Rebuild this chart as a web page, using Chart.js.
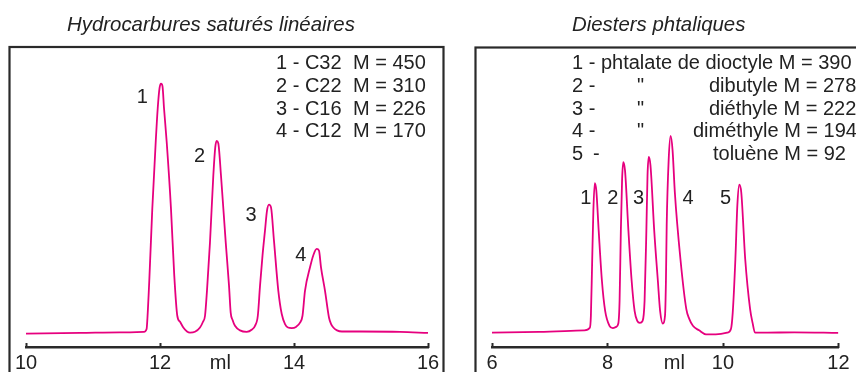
<!DOCTYPE html>
<html>
<head>
<meta charset="utf-8">
<script src="https://cdn.jsdelivr.net/npm/chart.js@4.4.1/dist/chart.umd.min.js"></script>
<style>
  body { margin: 0; background: #fff; overflow: hidden; }
  #wrap { position: relative; width: 856px; height: 372px; }
  canvas { position: absolute; top: 0; }
</style>
</head>
<body>
<div id="wrap">
  <canvas id="hc" width="460" height="372" style="left:0"></canvas>
  <canvas id="dp" width="396" height="372" style="left:460px"></canvas>
</div>
<script>
// --- Hydrocarbures saturés linéaires (volume in ml, detector response) ---
var hcX = [10.00, 10.81, 11.40, 11.76, 11.80, 11.81, 11.84, 11.885, 11.936, 11.966, 11.993, 12.015, 12.037, 12.060,
  12.100, 12.164, 12.213, 12.258, 12.299, 12.348, 12.403, 12.448, 12.522, 12.597, 12.642, 12.672, 12.701, 12.746,
  12.796, 12.825, 12.846, 12.870, 12.910, 12.981, 13.030, 13.055, 13.082, 13.119, 13.194, 13.294, 13.373, 13.418,
  13.460, 13.493, 13.530, 13.567, 13.597, 13.627, 13.657, 13.701, 13.766, 13.817, 13.866, 13.910, 13.966, 14.030,
  14.090, 14.127, 14.164, 14.239, 14.291, 14.339, 14.373, 14.403, 14.463, 14.522, 14.552, 14.587, 14.642, 14.716,
  14.985, 15.582, 16.00];
var hcY = [-0.3, -0.1, 0.1, 0.3, 1.3, 4.1, 18.1, 43.2, 66.5, 78.3, 85.3, 86.9, 86.0, 78.3,
  66.5, 43.2, 19.9, 5.9, 3.8, 1.8, 0.4, 0.0, 0.3, 1.8, 3.8, 5.9, 14.6, 31.5,
  54.9, 64.7, 66.9, 66.1, 54.9, 31.5, 16.4, 7.0, 4.5, 2.4, 0.8, 0.3, 1.1, 2.4,
  5.9, 16.4, 26.9, 35.6, 42.6, 44.7, 43.7, 32.1, 14.6, 6.5, 3.0, 1.8, 1.6, 2.0,
  3.5, 5.9, 14.6, 22.8, 27.2, 29.2, 28.6, 22.8, 14.6, 5.3, 3.1, 1.8, 0.8, 0.4,
  0.4, 0.3, -0.1];
var hcTicks = [10, 12, 14, 16];
var hcUnitAt = 12.9;
var hcPeakNames = ['1', '2', '3', '4'];
var hcPeakX = [11.736, 12.590, 13.358, 14.100];
var hcPeakY = [82.0, 61.4, 40.9, 27.0];
var hcLegendA = ['1 - C32', '2 - C22', '3 - C16', '4 - C12'];
var hcLegendB = ['M = 450', 'M = 310', 'M = 226', 'M = 170'];

// --- Diesters phtaliques ---
var dpX = [6.000, 6.816, 7.598, 7.695, 7.713, 7.734, 7.756, 7.780, 7.807, 7.848, 7.904, 7.960, 8.035, 8.091,
  8.150, 8.188, 8.210, 8.232, 8.253, 8.273, 8.304, 8.363, 8.419, 8.470, 8.516, 8.562, 8.609, 8.643,
  8.674, 8.694, 8.715, 8.745, 8.810, 8.873, 8.912, 8.958, 8.997, 9.013, 9.026, 9.060, 9.094, 9.128,
  9.167, 9.264, 9.366, 9.417, 9.480, 9.587, 9.706, 9.876, 10.074, 10.139, 10.170, 10.216, 10.250, 10.284,
  10.318, 10.386, 10.471, 10.514, 10.556, 10.726, 11.236, 12.000];
var dpY = [0.0, 0.3, 0.8, 1.7, 5.9, 23.9, 42.6, 52.2, 49.6, 35.6, 18.1, 7.6, 2.4, 1.6,
  2.0, 3.2, 11.1, 35.6, 53.1, 59.5, 56.6, 35.6, 18.1, 7.6, 4.1, 3.4, 4.1, 11.1,
  35.6, 54.9, 61.3, 58.4, 35.6, 18.1, 7.6, 3.2, 5.9, 18.1, 37.4, 60.1, 68.6, 63.6,
  49.0, 25.7, 8.2, 4.8, 2.4, 0.8, -0.6, -0.6, 0.0, 1.3, 7.0, 25.7, 44.4, 51.6,
  48.9, 25.7, 8.2, 3.4, 0.0, 0.0, 0.1, -0.1];
var dpTicks = [6, 8, 10, 12];
var dpUnitAt = 9.16;
var dpPeakNames = ['1', '2', '3', '4', '5'];
var dpPeakX = [7.623, 8.091, 8.538, 9.395, 10.046];
var dpPeakY = [46.7, 46.7, 46.7, 46.7, 46.7];
var dpLegendA = ['1 - phtalate de dioctyle M = 390', '2 -', '3 -', '4 -', '5'];
var dpLegendB = ['', '"', '"', '"', ''];
var dpLegendC = ['', 'dibutyle M = 278', 'diéthyle M = 222', 'diméthyle M = 194', 'toluène M = 92'];

var INK = '#222';
var LINE = '#e6007e';
var FONT = '"Liberation Sans", Arial, sans-serif';

function makeChart(id, xs, ys, ticks, unitAt, min, max, pad, deco) {
  var pts = xs.map(function (x, i) { return { x: x, y: ys[i] }; });
  return new Chart(document.getElementById(id), {
    type: 'line',
    data: {
      datasets: [{
        data: pts,
        borderColor: LINE,
        borderWidth: 1.8,
        pointRadius: 0,
        fill: false,
        cubicInterpolationMode: 'monotone'
      }]
    },
    options: {
      responsive: false,
      animation: false,
      layout: { padding: pad },
      plugins: { legend: { display: false }, tooltip: { enabled: false } },
      scales: {
        x: {
          type: 'linear', min: min, max: max,
          afterBuildTicks: function (axis) {
            axis.ticks = ticks.concat([unitAt]).sort(function (a, b) { return a - b; })
              .map(function (v) { return { value: v }; });
          },
          grid: { display: false, drawTicks: false },
          border: { display: true, color: '#2a2a2a', width: 2.5 },
          ticks: {
            color: INK, padding: 6.5, maxRotation: 0, autoSkip: false,
            font: { family: FONT, size: 20, lineHeight: 1 },
            callback: function (v) { return v === unitAt ? 'ml' : String(v); }
          }
        },
        y: { display: false, min: -5, max: 100 }
      }
    },
    plugins: [{
      id: 'deco',
      afterDraw: function (chart) {
        var ctx = chart.ctx, xs = chart.scales.x, ysc = chart.scales.y;
        ctx.save();
        // upward tick marks on the volume axis
        ctx.strokeStyle = '#2a2a2a';
        ctx.lineWidth = 2;
        ticks.forEach(function (v) {
          var px = Math.round(xs.getPixelForValue(v)) + 0.5;
          ctx.beginPath();
          ctx.moveTo(px, chart.chartArea.bottom + 1);
          ctx.lineTo(px, chart.chartArea.bottom - 4);
          ctx.stroke();
        });
        // frame
        ctx.lineWidth = 2.2;
        ctx.strokeRect(deco.frame[0], deco.frame[1], deco.frame[2], deco.frame[3]);
        // title
        ctx.fillStyle = INK;
        ctx.textBaseline = 'alphabetic';
        ctx.textAlign = 'left';
        ctx.font = 'italic 20.4px ' + FONT;
        ctx.fillText(deco.title, deco.titleX, 31);
        // legend text
        ctx.font = '20px ' + FONT;
        deco.legend.forEach(function (col) {
          col.text.forEach(function (t, i) {
            var x = Array.isArray(col.x) ? col.x[i] : col.x;
            ctx.fillText(t, x, 69.3 + i * 22.6);
          });
        });
        // peak numbers
        ctx.textAlign = 'center';
        ctx.textBaseline = 'middle';
        deco.peakNames.forEach(function (n, i) {
          ctx.fillText(n, xs.getPixelForValue(deco.peakX[i]), ysc.getPixelForValue(deco.peakY[i]));
        });
        ctx.restore();
      }
    }]
  });
}

makeChart('hc', hcX, hcY, hcTicks, hcUnitAt, 10, 16,
  { left: 26, right: 32, top: 46, bottom: -8 },
  {
    frame: [9.5, 47, 434, 400],
    title: 'Hydrocarbures saturés linéaires', titleX: 67,
    legend: [{ x: 276, text: hcLegendA }, { x: 353, text: hcLegendB }],
    peakNames: hcPeakNames, peakX: hcPeakX, peakY: hcPeakY
  });

makeChart('dp', dpX, dpY, dpTicks, dpUnitAt, 6, 12,
  { left: 32, right: 11, top: 46, bottom: -8 },
  {
    frame: [15.5, 47.5, 500, 400],
    title: 'Diesters phtaliques', titleX: 112,
    legend: [
      { x: 112, text: dpLegendA },
      { x: [177, 177, 177, 177, 133], text: dpLegendB.map(function (t, i) { return i === 4 ? '-' : t; }) },
      { x: [249, 249, 249, 233, 253], text: dpLegendC }
    ],
    peakNames: dpPeakNames, peakX: dpPeakX, peakY: dpPeakY
  });
</script>
</body>
</html>
